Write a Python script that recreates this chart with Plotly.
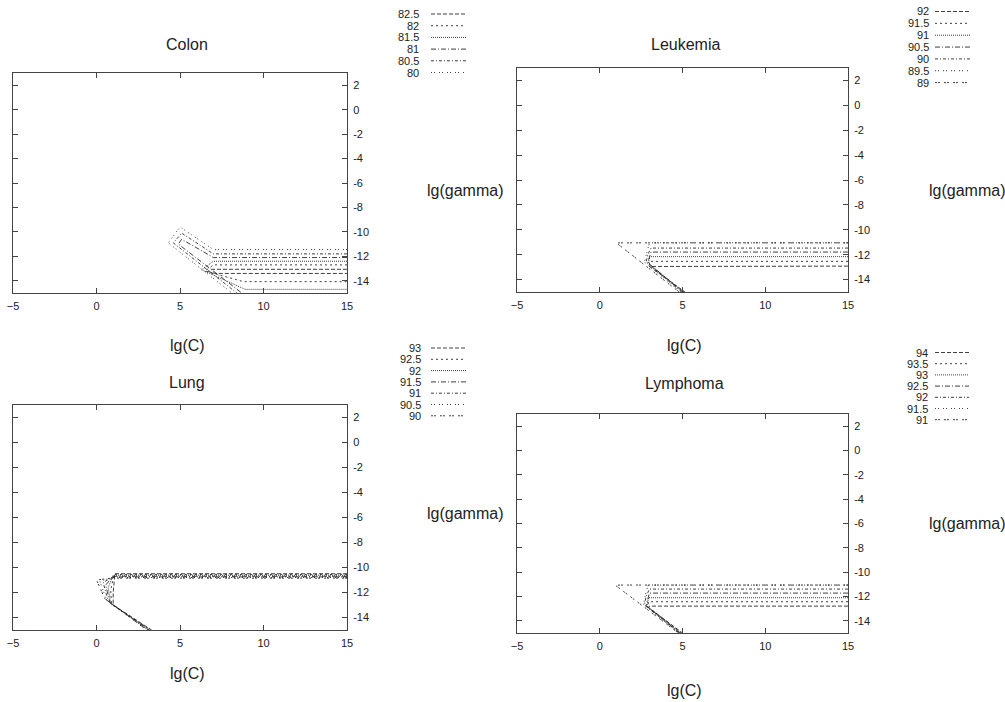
import plotly.graph_objects as go

W, H = 1005, 702

# ---------------- data ----------------
x_ticks = [-5, 0, 5, 10, 15]
y_ticks = [2, 0, -2, -4, -6, -8, -10, -12, -14]
y_tick_text = ["2", "0", "-2", "-4", "-6", "-8", "-10", "-12", "-14"]

panel_titles = ["Colon", "Leukemia", "Lung", "Lymphoma"]

colon_levels = ["82.5", "82", "81.5", "81", "80.5", "80"]
colon_x = {
    "82.5": [15, 6.9, 6.7, 7.1, 15],
    "82":   [15, 7.0, 6.5, 8.8, 15],
    "81.5": [15, 7.0, 6.3, 8.9, 15],
    "81":   [15, 7.0, 5.1, 4.9, 8.7],
    "80.5": [15, 7.0, 5.1, 4.6, 8.4],
    "80":   [15, 7.0, 5.0, 4.3, 8.1],
}
colon_y = {
    "82.5": [-13.06, -13.06, -13.25, -13.4, -13.4],
    "82":   [-12.7, -12.7, -13.2, -14.07, -14.07],
    "81.5": [-12.4, -12.4, -13.1, -14.7, -14.7],
    "81":   [-12.1, -12.1, -10.6, -11.0, -15],
    "80.5": [-11.8, -11.8, -10.1, -10.9, -15],
    "80":   [-11.45, -11.45, -9.6, -10.9, -15],
}

leuk_levels = ["92", "91.5", "91", "90.5", "90", "89.5", "89"]
leuk_x = {
    "92":   [15, 3.1, 3.0, 5.15],
    "91.5": [15, 3.0, 3.0, 5.1],
    "91":   [15, 3.0, 2.95, 5.05],
    "90.5": [15, 3.1, 2.9, 5.0],
    "90":   [15, 3.1, 2.9, 2.8, 4.95],
    "89.5": [15, 3.0, 2.85, 2.7, 4.9],
    "89":   [15, 1.0, 4.8],
}
leuk_y = {
    "92":   [-12.92, -12.92, -12.95, -15],
    "91.5": [-12.54, -12.54, -12.8, -15],
    "91":   [-12.16, -12.16, -12.7, -15],
    "90.5": [-11.79, -11.79, -12.65, -15],
    "90":   [-11.47, -11.47, -12.0, -12.6, -15],
    "89.5": [-11.05, -11.05, -11.8, -12.6, -15],
    "89":   [-11.05, -11.05, -15],
}

lung_levels = ["93", "92.5", "92", "91.5", "91", "90.5", "90"]
lung_x = {
    "93":   [15, 1.1, 1.0, 1.0, 3.3],
    "92.5": [15, 1.05, 0.85, 0.9, 3.25],
    "92":   [15, 1.0, 0.7, 0.85, 3.2],
    "91.5": [15, 1.0, 0.55, 0.8, 3.15],
    "91":   [15, 1.0, 0.4, 0.7, 3.1],
    "90.5": [15, 0.95, 0.2, 0.6, 3.05],
    "90":   [15, 0.9, 0.0, 0.5, 3.0],
}
lung_y = {
    "93":   [-10.5, -10.5, -12.0, -13.0, -15],
    "92.5": [-10.55, -10.55, -11.8, -12.95, -15],
    "92":   [-10.62, -10.62, -11.6, -12.9, -15],
    "91.5": [-10.7, -10.7, -11.4, -12.8, -15],
    "91":   [-10.75, -10.75, -11.2, -12.7, -15],
    "90.5": [-10.8, -10.8, -11.1, -12.6, -15],
    "90":   [-10.85, -10.85, -11.0, -12.5, -15],
}

lymph_levels = ["94", "93.5", "93", "92.5", "92", "91.5", "91"]
lymph_x = {
    "94":   [15, 3.0, 2.95, 5.0],
    "93.5": [15, 2.95, 2.9, 4.95],
    "93":   [15, 2.95, 2.85, 4.9],
    "92.5": [15, 3.0, 2.8, 4.85],
    "92":   [15, 3.0, 2.8, 2.7, 4.8],
    "91.5": [15, 2.93, 2.75, 2.65, 4.8],
    "91":   [15, 0.93, 4.75],
}
lymph_y = {
    "94":   [-12.79, -12.79, -12.9, -15],
    "93.5": [-12.43, -12.43, -12.85, -15],
    "93":   [-12.10, -12.10, -12.8, -15],
    "92.5": [-11.72, -11.72, -12.75, -15],
    "92":   [-11.39, -11.39, -12.0, -12.7, -15],
    "91.5": [-11.06, -11.06, -11.9, -12.65, -15],
    "91":   [-11.06, -11.06, -15],
}

# ---------------- styles / layout ----------------
FONT = "Liberation Sans, Arial, Helvetica, sans-serif"
TXT = "#222"
LINE = "#2a2a2a"
DASHES = ["4px,2px", "2px,3px", "1px,1px", "5px,2px,1px,2px",
          "3px,2px,1px,2px", "1px,2px,1px,4px", "2px,1px,2px,4px"]

# pixel boxes: left, right, top, bottom
boxes = [(13, 347, 73, 293), (517, 848, 68, 292), (13, 347, 405, 630), (517, 848, 414, 633)]
title_pos = [(187, 45), (685, 45), (187, 382), (684, 383)]
xlab_pos = [(187, 345), (684, 345), (187, 673), (684, 690)]
ylab_pos = [(465, 190), (967, 190), (465, 513), (967, 523)]
legend_geo = [  # text right x, line x0, x1, first row y, row step
    (421, 431, 466, 14, 11.7),
    (931, 935, 970, 11.5, 11.85),
    (423, 431, 466, 348, 11.3),
    (930, 935, 969, 352.5, 11.2),
]

panels = [
    (colon_levels, colon_x, colon_y),
    (leuk_levels, leuk_x, leuk_y),
    (lung_levels, lung_x, lung_y),
    (lymph_levels, lymph_x, lymph_y),
]

fig = go.Figure()
annotations = []
shapes = []

for i, (levels, xs, ys) in enumerate(panels):
    n = i + 1
    xa = "x" if n == 1 else f"x{n}"
    ya = "y" if n == 1 else f"y{n}"
    for k, lev in enumerate(levels):
        fig.add_trace(go.Scatter(
            x=xs[lev], y=ys[lev], mode="lines",
            line=dict(color=LINE, width=0.9, dash=DASHES[k]),
            xaxis=xa, yaxis=ya, showlegend=False, hoverinfo="skip"))
    l, r, t, b = boxes[i]
    axkw = dict(showgrid=False, zeroline=False, showline=True, linecolor="#444",
                linewidth=1, mirror="ticks", ticks="inside", ticklen=5,
                tickcolor="#444", automargin=False, ticklabelstandoff=3,
                tickfont=dict(family=FONT, size=11, color=TXT))
    fig.update_layout(**{
        ("xaxis" if n == 1 else f"xaxis{n}"): dict(
            domain=[l / W, r / W], range=[-5, 15], tickvals=x_ticks,
            anchor=ya, **axkw),
        ("yaxis" if n == 1 else f"yaxis{n}"): dict(
            domain=[1 - b / H, 1 - t / H], range=[-15, 3], tickvals=y_ticks,
            ticktext=y_tick_text, side="right", anchor=xa, **axkw),
    })
    # titles
    for (px, py), txt in [(title_pos[i], panel_titles[i]), (xlab_pos[i], "lg(C)"),
                          (ylab_pos[i], "lg(gamma)")]:
        annotations.append(dict(x=px / W, y=1 - py / H, xref="paper", yref="paper",
                                text=txt, showarrow=False, xanchor="center",
                                yanchor="middle",
                                font=dict(family=FONT, size=16, color=TXT)))
    # legend
    tx, x0, x1, y0, dy = legend_geo[i]
    for k, lev in enumerate(levels):
        yy = 1 - (y0 + k * dy) / H
        annotations.append(dict(x=tx / W, y=yy, xref="paper", yref="paper",
                                text=lev, showarrow=False, xanchor="right",
                                yanchor="middle",
                                font=dict(family=FONT, size=11, color=TXT)))
        shapes.append(dict(type="line", xref="paper", yref="paper",
                           x0=x0 / W, x1=x1 / W, y0=yy, y1=yy,
                           line=dict(color=LINE, width=0.9, dash=DASHES[k])))

fig.update_layout(template="none", width=W, height=H,
                  margin=dict(l=0, r=0, t=0, b=0, pad=0),
                  paper_bgcolor="white", plot_bgcolor="white",
                  annotations=annotations, shapes=shapes, showlegend=False)

fig.write_html("out.html")
